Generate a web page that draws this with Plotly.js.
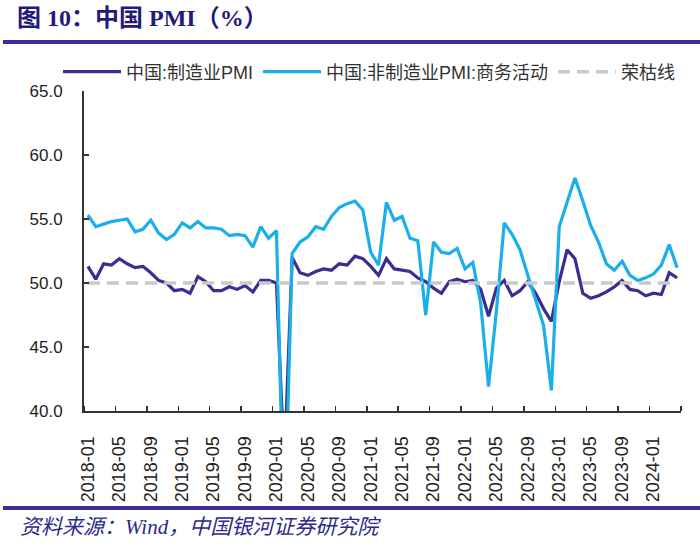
<!DOCTYPE html>
<html><head><meta charset="utf-8">
<script src="https://cdn.plot.ly/plotly-3.0.1.min.js"></script>
<style>html,body{margin:0;padding:0;background:#fff}#chart{width:700px;height:549px}</style>
</head><body><div id="chart"></div>
<script>
const months = [
'2018-01','2018-02','2018-03','2018-04','2018-05','2018-06','2018-07','2018-08','2018-09','2018-10','2018-11','2018-12',
'2019-01','2019-02','2019-03','2019-04','2019-05','2019-06','2019-07','2019-08','2019-09','2019-10','2019-11','2019-12',
'2020-01','2020-02','2020-03','2020-04','2020-05','2020-06','2020-07','2020-08','2020-09','2020-10','2020-11','2020-12',
'2021-01','2021-02','2021-03','2021-04','2021-05','2021-06','2021-07','2021-08','2021-09','2021-10','2021-11','2021-12',
'2022-01','2022-02','2022-03','2022-04','2022-05','2022-06','2022-07','2022-08','2022-09','2022-10','2022-11','2022-12',
'2023-01','2023-02','2023-03','2023-04','2023-05','2023-06','2023-07','2023-08','2023-09','2023-10','2023-11','2023-12',
'2024-01','2024-02','2024-03','2024-04'];
const labelMonths = ['2018-01','2018-05','2018-09','2019-01','2019-05','2019-09','2020-01','2020-05','2020-09',
'2021-01','2021-05','2021-09','2022-01','2022-05','2022-09','2023-01','2023-05','2023-09','2024-01'];
const mfgPMI = [
51.3,50.3,51.5,51.4,51.9,51.5,51.2,51.3,50.8,50.2,50.0,49.4,
49.5,49.2,50.5,50.1,49.4,49.4,49.7,49.5,49.8,49.3,50.2,50.2,
50.0,35.7,52.0,50.8,50.6,50.9,51.1,51.0,51.5,51.4,52.1,51.9,
51.3,50.6,51.9,51.1,51.0,50.9,50.4,50.1,49.6,49.2,50.1,50.3,
50.1,50.2,49.5,47.4,49.6,50.2,49.0,49.4,50.1,49.2,48.0,47.0,
50.1,52.6,51.9,49.2,48.8,49.0,49.3,49.7,50.2,49.5,49.4,49.0,
49.2,49.1,50.8,50.4];
const nonMfgPMI = [
55.3,54.4,54.6,54.8,54.9,55.0,54.0,54.2,54.9,53.9,53.4,53.8,
54.7,54.3,54.8,54.3,54.3,54.2,53.7,53.8,53.7,52.8,54.4,53.5,
54.1,29.6,52.3,53.2,53.6,54.4,54.2,55.2,55.9,56.2,56.4,55.7,
52.4,51.4,56.3,54.9,55.2,53.5,53.3,47.5,53.2,52.4,52.3,52.7,
51.1,51.6,48.4,41.9,47.8,54.7,53.8,52.6,50.6,48.7,46.7,41.6,
54.4,56.3,58.2,56.4,54.5,53.2,51.5,51.0,51.7,50.6,50.2,50.4,
50.7,51.4,53.0,51.2];
const threshold = [50, 50];
const seriesNames = ['中国:制造业PMI', '中国:非制造业PMI:商务活动', '荣枯线'];

const idx = months.map((m, i) => i);
const tickIdx = labelMonths.map(m => months.indexOf(m));
const last = months.length - 1;
const bounds = tickIdx.map(i => i - 0.5).concat([last + 0.5]);

const traces = [
  {x: idx, y: mfgPMI, name: seriesNames[0], type: 'scatter', mode: 'lines',
   line: {color: '#3b2e91', width: 3.2}},
  {x: idx, y: nonMfgPMI, name: seriesNames[1], type: 'scatter', mode: 'lines',
   line: {color: '#1aafea', width: 3.2}},
  {x: [0, last], y: threshold, name: seriesNames[2], type: 'scatter', mode: 'lines',
   line: {color: '#c9c9c9', width: 3.5, dash: '12px,7px'}}
];

const L = 84, R = 681, T = 91, B = 411;
const px = v => (v - L) / (R - L);
const py = v => (B - v) / (B - T);

const layout = {
  width: 700, height: 549,
  margin: {l: L, r: 700 - R, t: T, b: 549 - B},
  paper_bgcolor: '#fff', plot_bgcolor: '#fff',
  font: {family: 'Liberation Sans, Arial, Noto Sans CJK SC, sans-serif', color: '#222'},
  title: {text: '<b>图 10：中国 PMI（%）</b>', xref: 'container', yref: 'container',
    x: 17 / 700, xanchor: 'left', y: 1 - 18 / 549, yanchor: 'middle',
    font: {family: 'Liberation Serif, Noto Sans CJK SC, serif', size: 24, color: '#1f1a7c'}},
  showlegend: true,
  legend: {orientation: 'h', x: px(58), xanchor: 'left', y: py(72), yanchor: 'middle',
    font: {family: 'Liberation Sans, Noto Sans CJK SC, sans-serif', size: 18, color: '#333'},
    itemwidth: 58, bgcolor: 'rgba(0,0,0,0)', traceorder: 'normal'},
  xaxis: {type: 'linear', range: [-0.5, last + 0.5], showgrid: false, zeroline: false,
    tickmode: 'array', tickvals: tickIdx, ticktext: labelMonths, ticks: '', tickangle: -90,
    ticklabelstandoff: 16,
    tickfont: {size: 18, color: '#222', family: 'Liberation Sans, Arial, sans-serif'},
    showline: true, linecolor: '#333', linewidth: 2,
    minor: {tickmode: 'array', tickvals: bounds, ticks: 'inside', ticklen: 5, tickwidth: 1.5, tickcolor: '#333', showgrid: false}},
  yaxis: {range: [40, 65], tick0: 40, dtick: 5, tickformat: '.1f', showgrid: false, zeroline: false,
    ticks: 'inside', ticklen: 5, tickwidth: 1.5, tickcolor: '#333', ticklabelstandoff: 16,
    tickfont: {size: 17, color: '#222', family: 'Liberation Sans, Arial, sans-serif'},
    showline: true, linecolor: '#333', linewidth: 2},
  shapes: [
    {type: 'line', xref: 'paper', yref: 'paper', x0: px(3), x1: px(700), y0: py(42), y1: py(42),
     line: {color: '#3a2f96', width: 4}},
    {type: 'line', xref: 'paper', yref: 'paper', x0: px(3), x1: px(700), y0: py(508), y1: py(508),
     line: {color: '#3a2f96', width: 4}}
  ],
  annotations: [
    {text: '资料来源：Wind，中国银河证券研究院', xref: 'paper', yref: 'paper', x: px(18), y: py(527),
     xanchor: 'left', yanchor: 'middle', showarrow: false,
     font: {family: 'Liberation Serif, Noto Sans CJK SC, serif', size: 21, color: '#2a2a8c', style: 'italic'}}
  ]
};

Plotly.newPlot('chart', traces, layout, {staticPlot: true, displayModeBar: false});
</script>
</body></html>
